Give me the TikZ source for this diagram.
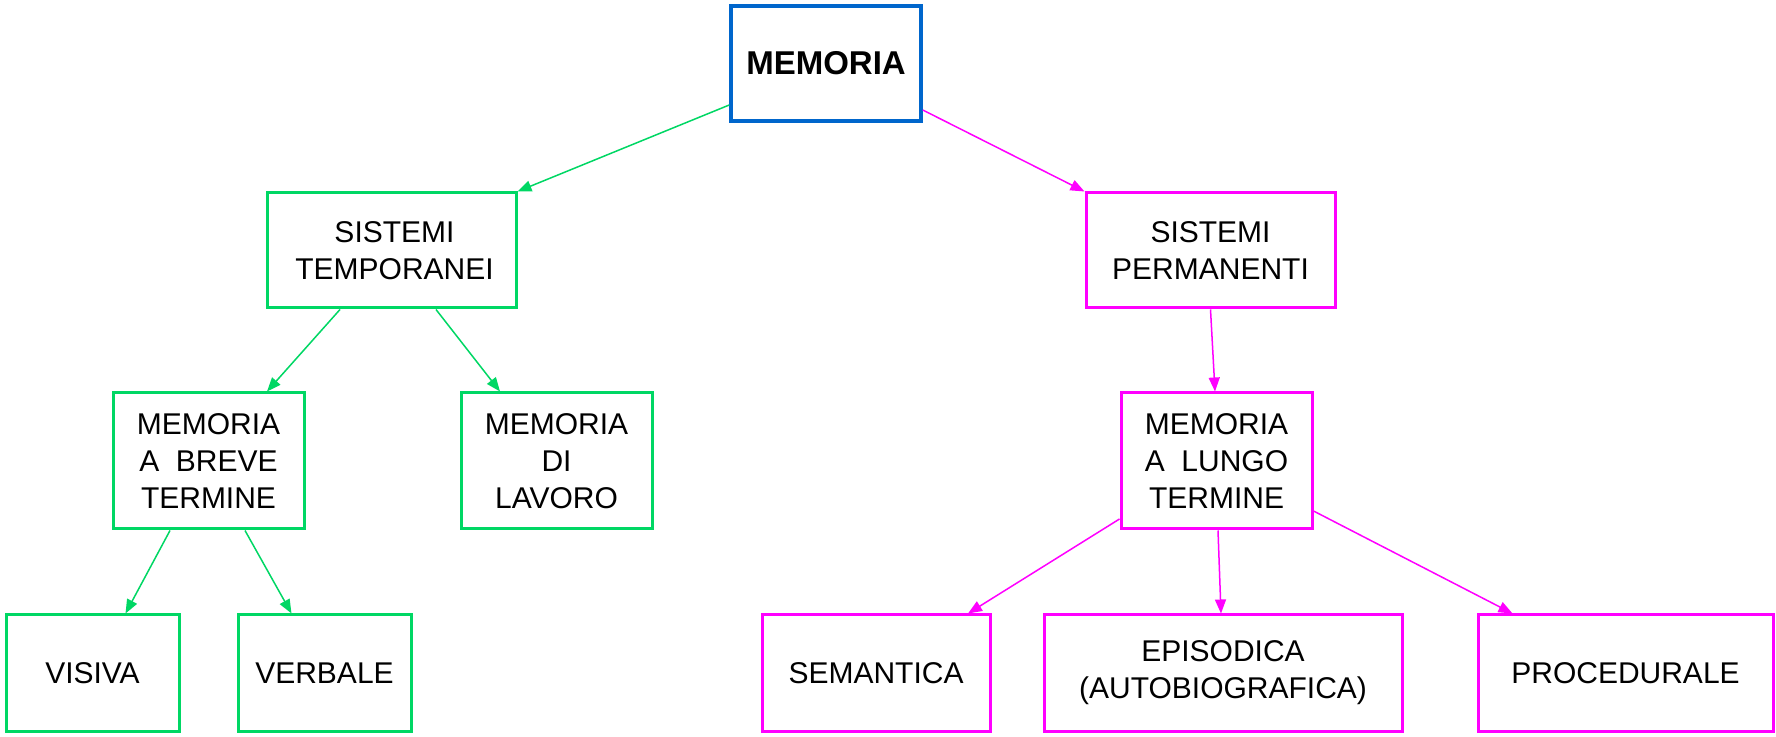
\documentclass[tikz,border=0pt]{standalone}
\usepackage{fontspec}
\setmainfont{Liberation Sans}
\usetikzlibrary{arrows.meta}
\definecolor{cgreen}{RGB}{0,215,100}
\definecolor{cmag}{RGB}{255,0,255}
\definecolor{cblue}{RGB}{0,102,204}
\begin{document}
\begin{tikzpicture}[x=1pt,y=1pt,
  box/.style={draw,rectangle,line width=3pt,inner sep=0pt,align=center,
    font=\fontsize{30}{37}\selectfont,text=black},
  gbox/.style={box,draw=cgreen},
  mbox/.style={box,draw=cmag},
  garr/.style={draw=cgreen,line width=1.5pt,-{Triangle[length=14pt,width=11pt]},fill=cgreen},
  marr/.style={draw=cmag,line width=1.5pt,-{Triangle[length=14pt,width=11pt]},fill=cmag}]
\useasboundingbox (0,0) rectangle (1776,736);
\node[box,draw=cblue,line width=3.5pt,minimum width=190pt,minimum height=115pt,font=\fontsize{33}{37}\selectfont\bfseries] (mem) at (826,672.5) {MEMORIA};
\node[gbox,minimum width=249pt,minimum height=115pt] (st) at (391.5,485.5) {\hspace*{6pt}SISTEMI\\\hspace*{6pt}TEMPORANEI};
\node[mbox,minimum width=249pt,minimum height=115pt] (sp) at (1210.5,485.5) {SISTEMI\\PERMANENTI};
\node[gbox,minimum width=191pt,minimum height=136pt] (br) at (208.5,275) {MEMORIA\\A~ BREVE\\TERMINE};
\node[gbox,minimum width=191pt,minimum height=136pt] (lav) at (556.5,275) {MEMORIA\\DI\\LAVORO};
\node[mbox,minimum width=191pt,minimum height=136pt] (lun) at (1216.5,275) {MEMORIA\\A~ LUNGO\\TERMINE};
\node[gbox,minimum width=173pt,minimum height=116pt] (vis) at (92.5,63) {VISIVA};
\node[gbox,minimum width=173pt,minimum height=116pt] (ver) at (324.5,63) {VERBALE};
\node[mbox,minimum width=228pt,minimum height=116pt] (sem) at (876,63) {SEMANTICA};
\node[mbox,minimum width=358pt,minimum height=116pt] (epi) at (1223,63) {EPISODICA\\(AUTOBIOGRAFICA)};
\node[mbox,minimum width=295pt,minimum height=116pt] (pro) at (1625.5,63) {PROCEDURALE};
\draw[garr] ([yshift=-41.5pt]mem.west) -- (st.north east);
\draw[marr] ([yshift=-46.5pt]mem.east) -- (sp.north west);
\draw[garr] ([xshift=-51.5pt]st.south) -- ([xshift=58.5pt]br.north);
\draw[garr] ([xshift=44.5pt]st.south) -- ([xshift=-56.5pt]lav.north);
\draw[marr] (sp.south) -- ([xshift=-1.5pt]lun.north);
\draw[garr] ([xshift=-38.5pt]br.south) -- ([xshift=33pt]vis.north);
\draw[garr] ([xshift=36.5pt]br.south) -- ([xshift=-33pt]ver.north);
\draw[marr] ([yshift=-58pt]lun.west) -- ([xshift=92pt]sem.north);
\draw[marr] ([xshift=1.5pt]lun.south) -- ([xshift=-2pt]epi.north);
\draw[marr] ([yshift=-50pt]lun.east) -- ([xshift=-113pt]pro.north);
\end{tikzpicture}
\end{document}
